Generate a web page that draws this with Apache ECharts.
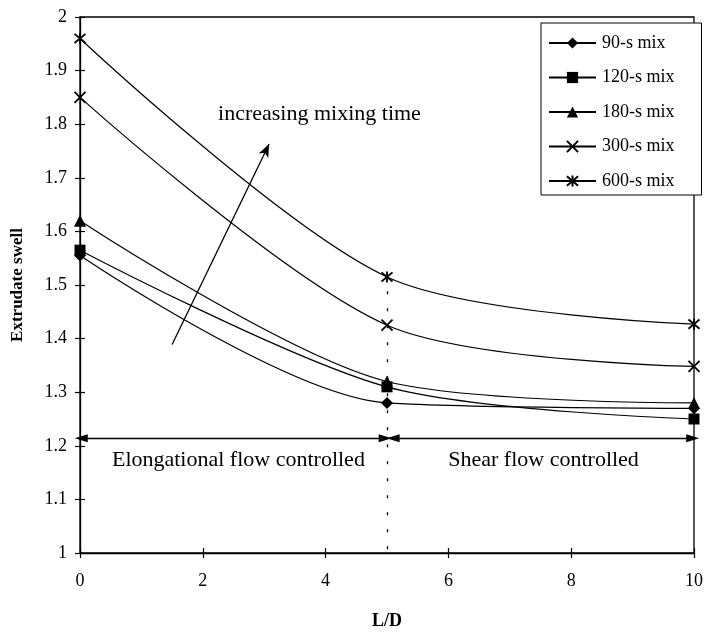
<!DOCTYPE html>
<html>
<head>
<meta charset="utf-8">
<script src="https://cdn.jsdelivr.net/npm/echarts@6/dist/echarts.min.js"></script>
<style>
  html, body { margin: 0; padding: 0; background: #fff; }
  #chart { width: 706px; height: 635px; }
</style>
</head>
<body>
<div id="chart"></div>
<script>
// L/D positions where extrudate swell was measured
const ldValues = [0, 5, 10];

// Extrudate swell for each mixing time
const swell90 = [1.555, 1.28, 1.27];
const swell120 = [1.565, 1.31, 1.25];
const swell180 = [1.62, 1.32, 1.28];
const swell300 = [1.85, 1.425, 1.348];
const swell600 = [1.96, 1.515, 1.427];

const seriesNames = ['90-s mix', '120-s mix', '180-s mix', '300-s mix', '600-s mix'];
const xTicks = [0, 2, 4, 6, 8, 10];
const yTicks = [1, 1.1, 1.2, 1.3, 1.4, 1.5, 1.6, 1.7, 1.8, 1.9, 2];

const FONT = '"Liberation Serif", "Times New Roman", serif';

const crossPath = 'path://M0,0L10,10M10,0L0,10';
const starPath = 'path://M0,0L10,10M10,0L0,10M5,-1L5,11';

const markers = [
  { symbol: 'diamond', size: 12, stroke: false },
  { symbol: 'rect', size: 11, stroke: false },
  { symbol: 'triangle', size: 12, stroke: false },
  { symbol: crossPath, size: 11, stroke: true },
  { symbol: starPath, size: 11, stroke: true }
];
const allValues = [swell90, swell120, swell180, swell300, swell600];

const dataSeries = allValues.map((vals, i) => ({
  name: seriesNames[i],
  type: 'line',
  smooth: 0.3,
  clip: false,
  data: ldValues.map((x, j) => [x, vals[j]]),
  symbol: markers[i].symbol,
  symbolSize: markers[i].size,
  showAllSymbol: true,
  lineStyle: { color: '#000', width: 1.2 },
  itemStyle: markers[i].stroke
    ? { color: '#000', borderColor: '#000', borderWidth: 1.8 }
    : { color: '#000', borderColor: '#000', borderWidth: 0 },
  z: 3
}));

// annotations: region arrows, dividing line, trend arrow and captions
const annotation = {
  type: 'line',
  data: [],
  silent: true,
  markLine: {
    silent: true,
    animation: false,
    label: { show: false },
    data: [
      [{ coord: [0.02, 1.214], symbol: 'triangle', symbolSize: [8, 13] },
       { coord: [4.97, 1.214], symbol: 'triangle', symbolSize: [8, 13] }],
      [{ coord: [5.1, 1.214], symbol: 'triangle', symbolSize: [8, 13] },
       { coord: [9.98, 1.214], symbol: 'triangle', symbolSize: [8, 13] }],
      [{ coord: [5, 1.52], symbol: 'none', lineStyle: { type: [3, 14], width: 1.3 } },
       { coord: [5, 1.0], symbol: 'none' }],
      [{ coord: [1.5, 1.389], symbol: 'none' },
       { coord: [3.08, 1.763], symbol: 'arrow', symbolSize: [8, 13] }]
    ],
    lineStyle: { color: '#000', type: 'solid', width: 1.3 }
  },
  markPoint: {
    silent: true,
    animation: false,
    symbol: 'circle',
    symbolSize: 0,
    label: {
      show: true,
      position: 'inside',
      color: '#000',
      fontFamily: FONT
    },
    data: [
      { coord: [3.9, 1.818], value: 0, label: { formatter: 'increasing mixing time', fontSize: 22 } },
      { coord: [2.58, 1.173], value: 0, label: { formatter: 'Elongational flow controlled', fontSize: 22 } },
      { coord: [7.55, 1.173], value: 0, label: { formatter: 'Shear flow controlled', fontSize: 22 } }
    ]
  }
};

const chart = echarts.init(document.getElementById('chart'), null, { renderer: 'canvas' });

chart.setOption({
  animation: false,
  backgroundColor: '#fff',
  textStyle: { fontFamily: FONT, color: '#000' },
  grid: {
    left: 80, right: 9, top: 17, bottom: 74,
    show: true, borderColor: '#000', borderWidth: 1.3,
    backgroundColor: 'transparent'
  },
  legend: {
    orient: 'vertical',
    left: 541, top: 23,
    data: seriesNames,
    itemWidth: 47,
    itemHeight: 14,
    itemGap: 16.5,
    padding: [11, 27, 5, 7],
    borderColor: '#000',
    borderWidth: 1,
    backgroundColor: '#fff',
    textStyle: { fontFamily: FONT, fontSize: 18, color: '#000', padding: [0, 0, 0, 1] }
  },
  xAxis: [{
    type: 'value',
    min: 0, max: 10, interval: 2,
    name: 'L/D',
    nameLocation: 'middle',
    nameGap: 59,
    nameTextStyle: { fontFamily: FONT, fontWeight: 'bold', fontSize: 18, color: '#000' },
    axisLine: { show: true, lineStyle: { color: '#000', width: 1.3 } },
    axisTick: { show: true, length: 5, lineStyle: { color: '#000', width: 1.2 } },
    axisLabel: { fontFamily: FONT, fontSize: 18, color: '#000', margin: 19 },
    splitLine: { show: false }
  }, {
    type: 'value',
    min: 0, max: 10, interval: 2,
    position: 'bottom',
    axisLine: { show: false },
    axisTick: { show: true, inside: true, length: 5, lineStyle: { color: '#000', width: 1.2 } },
    axisLabel: { show: false },
    splitLine: { show: false }
  }],
  yAxis: [{
    type: 'value',
    min: 1, max: 2, interval: 0.1,
    name: 'Extrudate swell',
    nameLocation: 'middle',
    nameGap: 54,
    nameTextStyle: { fontFamily: FONT, fontWeight: 'bold', fontSize: 17, color: '#000' },
    axisLine: { show: true, lineStyle: { color: '#000', width: 1.3 } },
    axisTick: { show: true, length: 5, lineStyle: { color: '#000', width: 1.2 } },
    axisLabel: {
      fontFamily: FONT, fontSize: 18, color: '#000', margin: 13,
      formatter: v => String(parseFloat(v.toFixed(1)))
    },
    splitLine: { show: false }
  }, {
    type: 'value',
    min: 1, max: 2, interval: 0.1,
    position: 'left',
    axisLine: { show: false },
    axisTick: { show: true, inside: true, length: 5, lineStyle: { color: '#000', width: 1.2 } },
    axisLabel: { show: false },
    splitLine: { show: false }
  }],
  series: dataSeries.concat([annotation])
});
</script>
</body>
</html>
